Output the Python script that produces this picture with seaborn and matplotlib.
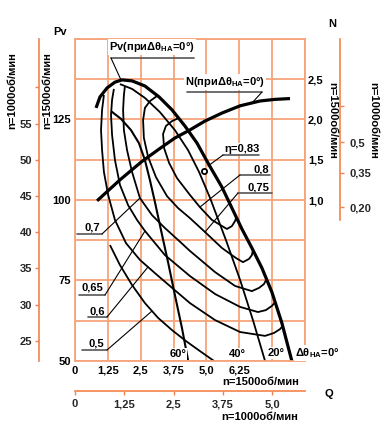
import matplotlib
matplotlib.use("Agg")
import matplotlib.pyplot as plt
from matplotlib.lines import Line2D
import seaborn as sns
import pandas as pd

# ---------------- data (Q in 1000 m3/h at n=1500, Pv in daPa) ----------------
pv0_q = [0.80, 0.95, 1.22, 1.52, 1.79, 2.17, 2.66, 3.20, 3.69, 4.18, 4.64, 5.10, 5.59, 5.97, 6.35, 6.73, 7.11, 7.49, 7.87, 8.25]
pv0_pv = [128.6, 132.0, 134.8, 136.6, 137.3, 137.0, 135.4, 132.0, 128.0, 123.0, 117.7, 110.9, 104.0, 97.5, 91.0, 85.1, 78.9, 71.4, 61.8, 50.0]

pv20_q = [1.71, 2.17, 2.66, 3.23, 3.80, 4.30, 4.72, 5.14, 5.74, 6.28, 6.77, 7.23]
pv20_pv = [136.0, 134.5, 131.7, 127.3, 121.7, 115.5, 108.7, 100.6, 87.6, 75.2, 62.7, 50.0]

pv60_q = [1.37, 1.75, 2.13, 2.43, 2.66, 2.85, 3.04, 3.27, 3.54, 3.80, 4.07, 4.30]
pv60_pv = [127.6, 125.2, 121.7, 117.7, 112.4, 106.2, 99.4, 90.7, 80.7, 70.5, 60.2, 50.3]

n_q = [0.84, 1.71, 2.55, 3.23, 3.80, 4.37, 4.94, 5.59, 6.28, 7.04, 7.61, 8.18]
n_kw = [0.99, 1.25, 1.48, 1.64, 1.77, 1.87, 1.98, 2.08, 2.17, 2.23, 2.25, 2.26]

eta80_q = [3.96, 3.69, 3.46, 3.35, 3.39, 3.58, 3.88, 4.37, 4.75, 5.21, 5.78, 5.97, 6.09, 6.14]
eta80_pv = [125.5, 124.5, 123.0, 120.5, 116.1, 111.5, 106.8, 101.6, 97.8, 93.8, 91.0, 91.9, 93.5, 94.7]

eta75_q = [3.12, 2.85, 2.66, 2.59, 2.62, 2.78, 3.08, 3.50, 3.92, 4.37, 4.94, 5.59, 6.12, 6.39, 6.62, 6.73, 6.77]
eta75_pv = [132.3, 130.7, 128.6, 124.8, 119.3, 113.4, 107.1, 101.2, 97.5, 94.4, 90.1, 85.1, 82.0, 80.7, 81.7, 82.9, 84.5]

eta70_q = [1.90, 1.86, 1.83, 1.86, 1.98, 2.17, 2.47, 2.93, 3.42, 3.92, 4.37, 5.33, 6.09, 6.73, 7.00, 7.19, 7.29]
eta70_pv = [135.4, 132.6, 128.0, 121.7, 115.5, 108.7, 100.6, 95.3, 91.3, 87.6, 84.2, 77.6, 73.3, 71.7, 72.7, 73.9, 75.5]

eta65_q = [1.48, 1.41, 1.37, 1.41, 1.52, 1.71, 2.02, 2.36, 2.66, 3.42, 4.37, 5.33, 6.28, 6.96, 7.26, 7.49, 7.62]
eta65_pv = [134.5, 131.1, 126.4, 120.2, 112.4, 104.7, 98.4, 93.8, 90.4, 82.9, 76.4, 70.8, 66.8, 65.2, 65.8, 67.1, 68.3]

eta60_q = [1.10, 1.03, 0.99, 1.03, 1.10, 1.26, 1.52, 1.94, 2.47, 3.04, 3.61, 4.37, 5.33, 6.28, 7.23, 7.57, 7.80, 7.90]
eta60_pv = [132.6, 128.0, 121.7, 115.5, 108.7, 101.6, 93.8, 86.6, 81.4, 77.3, 73.3, 68.0, 62.7, 59.0, 57.8, 58.7, 59.9, 60.9]

eta50_q = [1.33, 1.71, 2.17, 2.66, 3.16, 3.69, 4.22, 4.75, 5.29]
eta50_pv = [86.0, 79.8, 73.6, 68.0, 63.4, 59.6, 56.2, 53.1, 50.0]

eta_best_q = [4.91]
eta_best_pv = [109.0]

q_ticks = [0, 1.25, 2.5, 3.75, 5.0, 6.25, 7.5, 8.75]
q_labels = ["0", "1,25", "2,5", "3,75", "5,0", "6,25", "", ""]
q1000_ticks = [0, 1.25, 2.5, 3.75, 5.0]
q1000_labels = ["0", "1,25", "2,5", "3,75", "5,0"]
pv_ticks = [50, 62.5, 75, 87.5, 100, 112.5, 125, 137.5, 150]
pv_labels = ["50", "", "75", "", "100", "", "125", "", ""]
pv1000_ticks = [25, 30, 35, 40, 45, 50, 55, 60]
pv1000_labels = ["25", "30", "35", "40", "45", "50", "55", ""]
n_ticks = [1.0, 1.5, 2.0, 2.5]
n_labels = ["1,0", "1,5", "2,0", "2,5"]
n1000_pos = [129.2, 118.0, 108.4, 97.8]
n1000_labels = ["", "0,5", "0,35", "0,20"]

# ---------------- style ----------------
sns.set_theme(style="white")
plt.rcParams["font.family"] = ["Liberation Sans", "DejaVu Sans"]
plt.rcParams["font.weight"] = "bold"
plt.rcParams["mathtext.fontset"] = "custom"
plt.rcParams["mathtext.rm"] = "Liberation Sans:bold"
plt.rcParams["mathtext.it"] = "Liberation Sans:bold"
plt.rcParams["mathtext.bf"] = "Liberation Sans:bold"

GRID = "#F6A47A"
AXC = "#F3834A"
FS = 8

W, H = 390, 425
fig = plt.figure(figsize=(W / 100, H / 100), dpi=100)
fig.patch.set_facecolor("white")
ax = fig.add_axes([75 / W, 1 - 361 / H, 230 / W, 322 / H])
ax.set_xlim(0, 8.75)
ax.set_ylim(50, 150)


def curve(q, v, lw, axis=ax):
    df = pd.DataFrame({"Q": q, "V": v})
    sns.lineplot(data=df, x="Q", y="V", sort=False, estimator=None, color="black",
                 lw=lw, ax=axis, legend=False, solid_capstyle="butt", solid_joinstyle="round")


curve(pv0_q, pv0_pv, 2.3)
curve(pv20_q, pv20_pv, 1.3)
curve(pv60_q, pv60_pv, 1.5)
for q, v in [(eta80_q, eta80_pv), (eta75_q, eta75_pv), (eta70_q, eta70_pv),
             (eta65_q, eta65_pv), (eta60_q, eta60_pv), (eta50_q, eta50_pv)]:
    curve(q, v, 1.3)
sns.scatterplot(x=eta_best_q, y=eta_best_pv, ax=ax, s=14, facecolor="white",
                edgecolor="black", linewidth=1.3, zorder=5)

ax.set_xticks(q_ticks, q_labels)
ax.set_yticks(pv_ticks, pv_labels)
ax.grid(True, color=GRID, lw=1.3)
ax.set_axisbelow(True)
for s in ax.spines.values():
    s.set_color(GRID)
    s.set_linewidth(1.3)
ax.tick_params(axis="both", length=0, labelsize=FS, colors="black")
ax.tick_params(axis="y", pad=3)
ax.tick_params(axis="x", pad=3.5)
ax.set_xlabel("")
ax.set_ylabel("")

# N axis (n=1500) on the right
axN = ax.twinx()
axN.set_ylim(-1, 3)
curve(n_q, n_kw, 2.3, axis=axN)
axN.set_yticks(n_ticks, n_labels)
axN.tick_params(axis="y", length=0, labelsize=FS, pad=2.2, colors="black")
axN.grid(False)
for s in axN.spines.values():
    s.set_visible(False)
axN.set_ylabel("")
axN.set_xlabel("")

# secondary axis: Pv for n=1000 (left)
secL = ax.secondary_yaxis((39 - 75) / 230, functions=(lambda p: p * 4 / 9, lambda p: p * 9 / 4))
secL.set_yticks(pv1000_ticks, pv1000_labels)
secL.tick_params(axis="y", direction="out", length=3, width=1, color=AXC, labelsize=FS, pad=2)
secL.spines["left"].set_color(AXC)
secL.spines["left"].set_linewidth(1.2)

# secondary axis: N for n=1000 (right)
secR = ax.secondary_yaxis((340 - 75) / 230)
secR.set_yticks(n1000_pos, n1000_labels)
secR.tick_params(axis="y", direction="out", length=3, width=1, color=AXC, labelsize=FS, pad=3.5)
secR.spines["right"].set_color(AXC)
secR.spines["right"].set_linewidth(1.2)
secR.spines["right"].set_bounds(93.7, 150)

# secondary axis: Q for n=1000 (bottom)
secB = ax.secondary_xaxis(-(391 - 361) / 322, functions=(lambda q: q / 1.5, lambda q: q * 1.5))
secB.set_xticks(q1000_ticks, q1000_labels)
secB.tick_params(axis="x", direction="out", length=3, width=1, color=AXC, labelsize=FS, pad=3)
secB.spines["bottom"].set_color(AXC)
secB.spines["bottom"].set_linewidth(1.2)


# ---------------- annotations (figure pixel positions) ----------------
def ftext(x, y, s, ha="center", va="center", rot=0, box=False, fs=FS):
    kw = {}
    if box:
        kw["bbox"] = dict(facecolor="white", edgecolor="none", pad=0.6)
    fig.text(x / W, 1 - y / H, s, ha=ha, va=va, rotation=rot, fontsize=fs,
             fontweight="bold", color="black", **kw)


def fline(pts, color="black", lw=0.8):
    xs = [p[0] / W for p in pts]
    ys = [1 - p[1] / H for p in pts]
    fig.add_artist(Line2D(xs, ys, transform=fig.transFigure, color=color, lw=lw, zorder=4))


ULC = "#555555"
# eta labels with underline + leader
labels = [
    ("0,7", 92, 228, (77, 102, 234), (140, 198)),
    ("0,65", 92, 288, (79, 105, 295), (145, 231)),
    ("0,6", 97, 311, (88, 107, 317), (148, 267)),
    ("0,5", 96, 344, (82, 107, 350), (152, 311)),
]
for s, x, y, (u0, u1, uy), tip in labels:
    ftext(x, y, s)
    fline([(u0, uy), (u1, uy)], color=ULC, lw=1.2)
    fline([(u1, uy), tip])

ftext(242, 148.5, "η=0,83", box=True)
fline([(223, 155), (259, 155)], color=ULC, lw=1.2)
fline([(223, 155), (208, 166)])

ftext(261, 170, "0,8", box=True)
fline([(240, 175), (270, 175)], color=ULC, lw=1.2)
fline([(240, 175), (200, 207)])

ftext(258, 187.5, "0,75", box=True)
fline([(238, 193), (272, 193)], color=ULC, lw=1.2)
fline([(238, 193), (205, 232)])

ftext(152, 47, r"Pv(приΔθ$_{\rm НА}$=0°)", box=True)
fline([(111, 58), (194, 58)], color=ULC, lw=1.2)
fline([(111, 58), (121, 80)])

ftext(225, 82, r"N(приΔθ$_{\rm НА}$=0°)", box=True)
fline([(187, 92), (262, 92)], color=ULC, lw=1.2)
fline([(262, 92), (252, 103)])

ftext(178, 354, "60°", box=True)
ftext(237, 354, "40°", box=True)
ftext(276, 353, "20°", box=True)
ftext(295, 353, r"Δθ$_{\rm НА}$=0°", ha="left", box=True)

# axis titles
ftext(60, 32, "Pv")
ftext(332, 24, "N")
ftext(329, 394, "Q")
ftext(12, 91, "n=1000об/мин", rot=90)
ftext(47, 91, "n=1500об/мин", rot=90)
ftext(332, 120, "n=1500об/мин", rot=270)
ftext(373, 120, "n=1000об/мин", rot=270)
ftext(261, 382, "n=1500об/мин")
ftext(260, 417, "n=1000об/мин")

fig.savefig("out.png", dpi=100, facecolor="white")
